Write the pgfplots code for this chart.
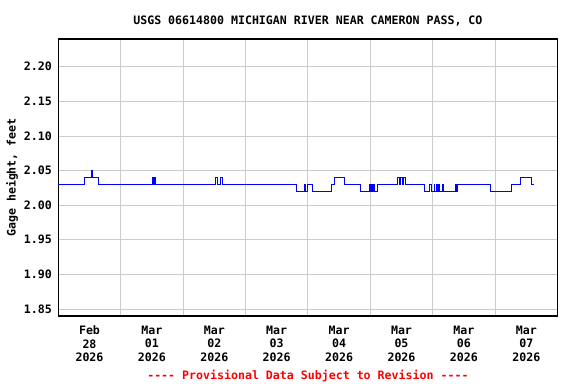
\documentclass[border=0pt]{standalone}
\usepackage{pgfplots}
\pgfplotsset{compat=1.18}
\usepackage{fontspec}
\setmainfont{DejaVu Sans Mono}
\definecolor{gridgray}{RGB}{204,204,204}
\begin{document}
\begin{tikzpicture}
\useasboundingbox (0,0) rectangle (576bp,384bp);
\begin{axis}[
  at={(58.3bp,68bp)}, anchor=south west,
  scale only axis, width=499.2bp, height=277bp,
  xmin=0, xmax=8, ymin=1.84, ymax=2.24,
  axis line style={black, line width=1.2pt},
  xtick={0.5,1.5,...,7.5},
  xticklabels={{Feb\\28\\2026},{Mar\\01\\2026},{Mar\\02\\2026},{Mar\\03\\2026},{Mar\\04\\2026},{Mar\\05\\2026},{Mar\\06\\2026},{Mar\\07\\2026}},
  minor xtick={1,2,...,7},
  xminorgrids=true,
  ytick={1.85,1.90,...,2.21},
  ymajorgrids=true,
  grid style={gridgray, line width=0.9pt},
  minor grid style={gridgray, line width=0.9pt},
  major tick length=0pt, minor tick length=0pt,
  /pgf/number format/assume math mode=true,
  yticklabel={\pgfmathprintnumber[fixed,fixed zerofill,precision=2]{\tick}},
  ticklabel style={font=\fontsize{11.6bp}{13.4bp}\selectfont\bfseries},
  xticklabel style={align=center, yshift=-6.5bp},
  yticklabel style={xshift=-3bp},
  ylabel={Gage height, feet},
  ylabel style={font=\fontsize{11.6bp}{13.3bp}\selectfont\bfseries, yshift=-1bp},
  title={USGS 06614800 MICHIGAN RIVER NEAR CAMERON PASS, CO},
  title style={font=\fontsize{11.6bp}{13.3bp}\selectfont\bfseries, yshift=3bp},
  clip=false,
]
\addplot[const plot, color={rgb,255:red,0;green,0;blue,255}, line width=0.8pt] coordinates {
(0,2.03)
(0.423,2.04)
(0.525,2.05)
(0.54,2.04)
(0.65,2.03)
(1.504,2.04)
(1.52,2.03)
(1.535,2.04)
(1.557,2.03)
(2.52,2.04)
(2.55,2.03)
(2.59,2.04)
(2.635,2.03)
(3.821,2.02)
(3.944,2.03)
(3.965,2.02)
(3.997,2.03)
(4.072,2.02)
(4.377,2.03)
(4.43,2.04)
(4.59,2.03)
(4.84,2.02)
(4.985,2.03)
(5.0,2.02)
(5.015,2.03)
(5.035,2.02)
(5.05,2.03)
(5.065,2.02)
(5.11,2.03)
(5.43,2.04)
(5.46,2.03)
(5.475,2.04)
(5.515,2.03)
(5.53,2.04)
(5.565,2.03)
(5.875,2.02)
(5.955,2.03)
(5.977,2.02)
(6.02,2.03)
(6.035,2.02)
(6.057,2.03)
(6.073,2.02)
(6.085,2.03)
(6.1,2.02)
(6.154,2.03)
(6.17,2.02)
(6.367,2.03)
(6.383,2.02)
(6.395,2.03)
(6.918,2.02)
(7.267,2.03)
(7.40,2.04)
(7.58,2.03)
(7.625,2.03)
};
\node[font=\fontsize{11.6bp}{13.3bp}\selectfont\bfseries, text={rgb,255:red,255;green,0;blue,0}] at (rel axis cs:0.5,0) [yshift=-60bp] {-{}-{}-{}- Provisional Data Subject to Revision -{}-{}-{}-};
\end{axis}
\end{tikzpicture}
\end{document}
